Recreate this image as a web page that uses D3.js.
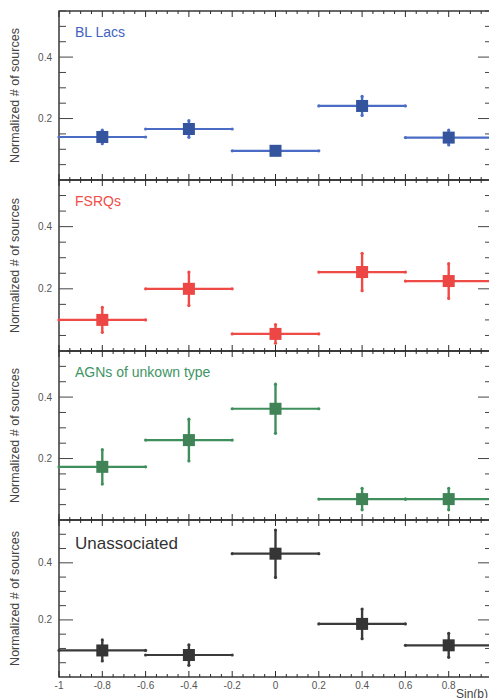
<!DOCTYPE html>
<html>
<head>
<meta charset="utf-8">
<script src="https://cdn.jsdelivr.net/npm/d3@7"></script>
<style>
  html, body { margin: 0; padding: 0; background: #fff; }
  svg { display: block; }
  text { font-family: "Liberation Sans", Arial, sans-serif; }
</style>
</head>
<body>
<svg id="chart" width="489" height="698"></svg>
<script>
// Bin centres in sin(b) and half-width of each bin
const binCenters = [-0.8, -0.4, 0, 0.4, 0.8];
const binHalfWidth = 0.2;

// Source classes
const classNames = ["BL Lacs", "FSRQs", "AGNs of unkown type", "Unassociated"];

// Normalized fractions per bin and their 1-sigma errors
const blLacValues   = [0.140, 0.166, 0.095, 0.241, 0.138];
const blLacErrors   = [0.022, 0.027, 0.012, 0.031, 0.024];
const fsrqValues    = [0.100, 0.200, 0.055, 0.254, 0.225];
const fsrqErrors    = [0.040, 0.054, 0.030, 0.060, 0.056];
const agnValues     = [0.173, 0.260, 0.362, 0.068, 0.068];
const agnErrors     = [0.056, 0.068, 0.080, 0.035, 0.035];
const unassocValues = [0.093, 0.077, 0.432, 0.186, 0.111];
const unassocErrors = [0.037, 0.036, 0.083, 0.052, 0.042];

// Axis ticks
const xTickLabels = [-1, -0.8, -0.6, -0.4, -0.2, 0, 0.2, 0.4, 0.6, 0.8];
const yTickLabels = [0.2, 0.4];

const seriesValues = [blLacValues, fsrqValues, agnValues, unassocValues];
const seriesErrors = [blLacErrors, fsrqErrors, agnErrors, unassocErrors];

const styles = [
  { line: "#4a6cc4", mark: "#34549e", text: "#3f63c0", size: 14 },
  { line: "#ee4a46", mark: "#ec4645", text: "#ef4d48", size: 14 },
  { line: "#3f8f5c", mark: "#3f8357", text: "#3e9463", size: 14 },
  { line: "#3a3a3a", mark: "#353535", text: "#333333", size: 17 }
];

// Panel vertical extents
const panels = [
  { top: 11,  bottom: 180 },
  { top: 180, bottom: 351 },
  { top: 351, bottom: 520 },
  { top: 520, bottom: 677 }
];

const svg = d3.select("#chart");
const x = d3.scaleLinear().domain([-1, 1]).range([59, 492]);

const minorX = d3.range(-1, 1.0001, 0.05);
const majorX = d3.range(-1, 1.0001, 0.2);
const minorY = d3.range(0.05, 0.551, 0.05);
const majorY = [0.2, 0.4];
const axisColor = "#2a2a2a";

panels.forEach((p, i) => {
  const y = d3.scaleLinear().domain([0, 0.55]).range([p.bottom, p.top]);
  const g = svg.append("g");
  const st = styles[i];

  // Frame
  g.append("rect")
    .attr("x", x(-1)).attr("y", p.top)
    .attr("width", x(1) - x(-1)).attr("height", p.bottom - p.top)
    .attr("fill", "none").attr("stroke", axisColor).attr("stroke-width", 1.4);

  // Inward ticks on top and bottom edges
  minorX.forEach(v => {
    const isMajor = majorX.some(m => Math.abs(m - v) < 1e-6);
    const len = isMajor ? 6 : 3;
    [[p.top, 1], [p.bottom, -1]].forEach(([yy, dir]) => {
      g.append("line")
        .attr("x1", x(v)).attr("x2", x(v))
        .attr("y1", yy).attr("y2", yy + dir * len)
        .attr("stroke", axisColor).attr("stroke-width", 1);
    });
  });

  // Inward ticks on left and right edges
  minorY.forEach(v => {
    const isMajor = majorY.some(m => Math.abs(m - v) < 1e-6);
    const len = isMajor ? 14 : 7;
    g.append("line")
      .attr("x1", x(-1)).attr("x2", x(-1) + len)
      .attr("y1", y(v)).attr("y2", y(v))
      .attr("stroke", "#444").attr("stroke-width", 1);
    g.append("line")
      .attr("x1", x(1)).attr("x2", x(1) - len)
      .attr("y1", y(v)).attr("y2", y(v))
      .attr("stroke", "#444").attr("stroke-width", 1);
  });

  // Y tick labels
  yTickLabels.forEach(v => {
    g.append("text")
      .attr("x", 52).attr("y", y(v) + 3.5)
      .attr("text-anchor", "end")
      .attr("font-size", 10).attr("fill", "#555")
      .text(v.toFixed(1));
  });

  // Y axis title
  g.append("text")
    .attr("transform", `translate(19,${(p.top + p.bottom) / 2}) rotate(-90)`)
    .attr("text-anchor", "middle")
    .attr("font-size", 12.5).attr("fill", "#444")
    .text("Normalized # of sources");

  // Class name
  g.append("text")
    .attr("x", 75).attr("y", p.top + (i === 3 ? 29 : 26))
    .attr("font-size", st.size).attr("fill", st.text)
    .text(classNames[i]);

  // Data points: horizontal bin bars, vertical error bars, square markers
  const vals = seriesValues[i], errs = seriesErrors[i];
  binCenters.forEach((c, j) => {
    const v = vals[j], e = errs[j];
    g.append("line")
      .attr("x1", x(c - binHalfWidth)).attr("x2", x(c + binHalfWidth))
      .attr("y1", y(v)).attr("y2", y(v))
      .attr("stroke", st.line).attr("stroke-width", 2.2);
    [c - binHalfWidth, c + binHalfWidth].forEach(cx => {
      g.append("circle").attr("cx", x(cx)).attr("cy", y(v)).attr("r", 1.6).attr("fill", st.line);
    });
    g.append("line")
      .attr("x1", x(c)).attr("x2", x(c))
      .attr("y1", y(v - e)).attr("y2", y(v + e))
      .attr("stroke", st.line).attr("stroke-width", 2.4);
    [v - e, v + e].forEach(cy => {
      g.append("circle").attr("cx", x(c)).attr("cy", y(cy)).attr("r", 1.6).attr("fill", st.line);
    });
    g.append("rect")
      .attr("x", x(c) - 6).attr("y", y(v) - 6)
      .attr("width", 12).attr("height", 12)
      .attr("fill", st.mark);
  });

  // X tick labels under the last panel
  if (i === panels.length - 1) {
    xTickLabels.forEach(v => {
      g.append("text")
        .attr("x", x(v)).attr("y", p.bottom + 11.5)
        .attr("text-anchor", "middle")
        .attr("font-size", 10).attr("fill", "#555")
        .text(v === 0 ? "0" : String(v));
    });
    g.append("text")
      .attr("x", 456).attr("y", 698)
      .attr("font-size", 12).attr("fill", "#444")
      .text("Sin(b)");
  }
});
</script>
</body>
</html>
